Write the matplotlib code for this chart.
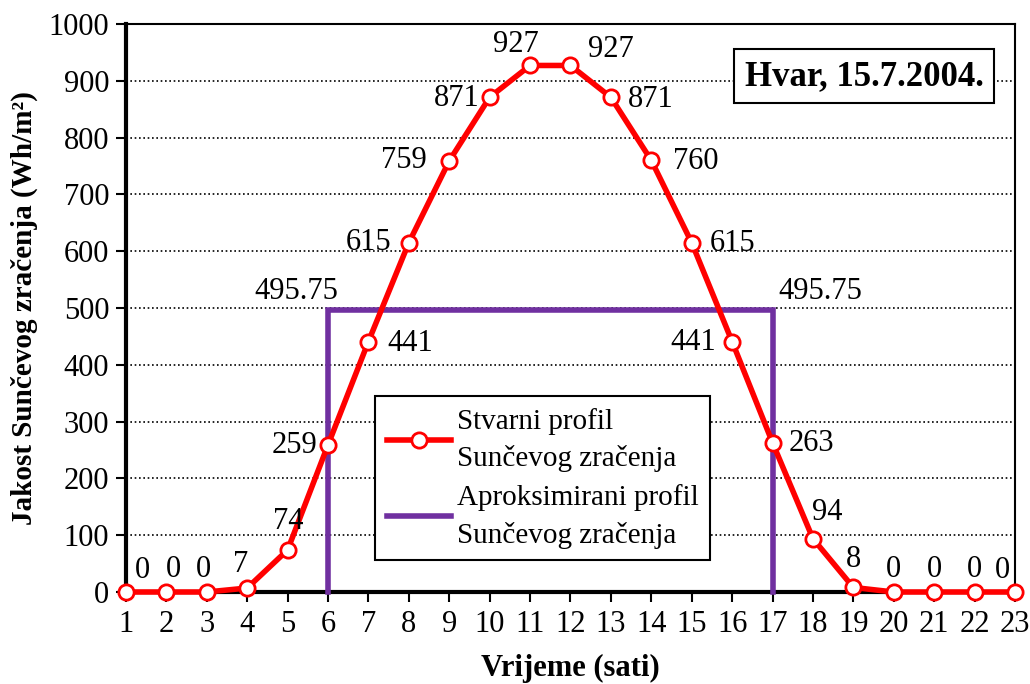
import matplotlib
matplotlib.use("Agg")
import matplotlib.pyplot as plt
from matplotlib.lines import Line2D

# Hourly solar irradiance, Hvar, 15 July 2004
hours = list(range(1, 24))
irradiance = [0, 0, 0, 7, 74, 259, 441, 615, 759, 871, 927, 927,
              871, 760, 615, 441, 263, 94, 8, 0, 0, 0, 0]

# Rectangular approximation of the profile
approx_start, approx_end = 6, 17
approx_level = 495.75

# Label offsets (pixels) for each point label
label_offsets = [(16, 22), (7, 23), (-3, 23), (-7, 24), (1, 28), (-34, -1),
                 (42, -2), (-40, 0), (-45, 0), (-33, -1), (-14, 21), (40, 16),
                 (40, -2), (44, -1), (41, -1), (-39, -1), (39, -1), (14, 26),
                 (0, 28), (0, 23), (0, 23), (0, 23), (-13, 22)]

plt.rcParams['font.family'] = ['Liberation Serif', 'DejaVu Serif']

RED = '#FF0000'
PURPLE = '#7030A0'
FS = 22

fig = plt.figure(figsize=(10.30, 6.84), dpi=100)
ax = fig.add_axes([0.1223, 0.1345, 0.9854 - 0.1223, 0.9649 - 0.1345])

ax.set_xlim(1, 23)
ax.set_ylim(0, 1000)
ax.set_xticks(hours)
ax.set_yticks(range(0, 1001, 100))
ax.tick_params(axis='both', direction='out', length=7, width=1.5,
               labelsize=FS, colors='black')
ax.tick_params(axis='x', pad=6)
ax.tick_params(axis='y', pad=5)

for y in range(100, 1001, 100):
    ax.axhline(y, color='black', lw=1.2, ls=(0, (1, 1.6)), zorder=0)

for side in ('left', 'bottom'):
    ax.spines[side].set_linewidth(3)
for side in ('top', 'right'):
    ax.spines[side].set_linewidth(1.5)

# Approximated profile
ax.plot([approx_start, approx_start, approx_end, approx_end],
        [0, approx_level, approx_level, 0],
        color=PURPLE, lw=4, solid_joinstyle='miter', zorder=3, clip_on=False)

# Measured profile
ax.plot(hours, irradiance, color=RED, lw=4, marker='o', markersize=11,
        markerfacecolor='white', markeredgecolor=RED, markeredgewidth=2,
        zorder=4, clip_on=False)

for h, v, (dx, dy) in zip(hours, irradiance, label_offsets):
    ax.annotate(f"{v}", (h, v), xytext=(dx, dy), textcoords='offset pixels',
                ha='center', va='center', fontsize=FS, zorder=5,
                annotation_clip=False)

ax.annotate(f"{approx_level:g}", (approx_start, approx_level), xytext=(-32, 19),
            textcoords='offset pixels', ha='center', va='center', fontsize=FS)
ax.annotate(f"{approx_level:g}", (approx_end, approx_level), xytext=(48, 19),
            textcoords='offset pixels', ha='center', va='center', fontsize=FS)

ax.set_xlabel("Vrijeme (sati)", fontsize=22, fontweight='bold', labelpad=11)
ax.set_ylabel("Jakost Sunčevog zračenja (Wh/m²)", fontsize=21,
              fontweight='bold', labelpad=8)

ax.text(0.9645, 0.908, "Hvar, 15.7.2004.", transform=ax.transAxes,
        ha='right', va='center', fontsize=25, fontweight='bold',
        bbox=dict(boxstyle='square,pad=0.3', facecolor='white',
                  edgecolor='black', linewidth=1.5), zorder=6)

handles = [
    Line2D([], [], color=RED, lw=4, marker='o', markersize=11,
           markerfacecolor='white', markeredgecolor=RED, markeredgewidth=2),
    Line2D([], [], color=PURPLE, lw=4),
]
labels = ["Stvarni profil\nSunčevog zračenja",
          "Aproksimirani profil\nSunčevog zračenja"]
leg = ax.legend(handles, labels, loc='upper left',
                bbox_to_anchor=(0.2805, 0.3445), fontsize=21, frameon=True,
                fancybox=False, edgecolor='black', framealpha=1,
                handlelength=2.2, handletextpad=0.2, labelspacing=0.4,
                borderpad=0.4, borderaxespad=0)
leg.get_frame().set_linewidth(1.5)
for t in leg.get_texts():
    t.set_linespacing(1.5)
leg.set_zorder(6)

fig.savefig("out.png", dpi=100)
